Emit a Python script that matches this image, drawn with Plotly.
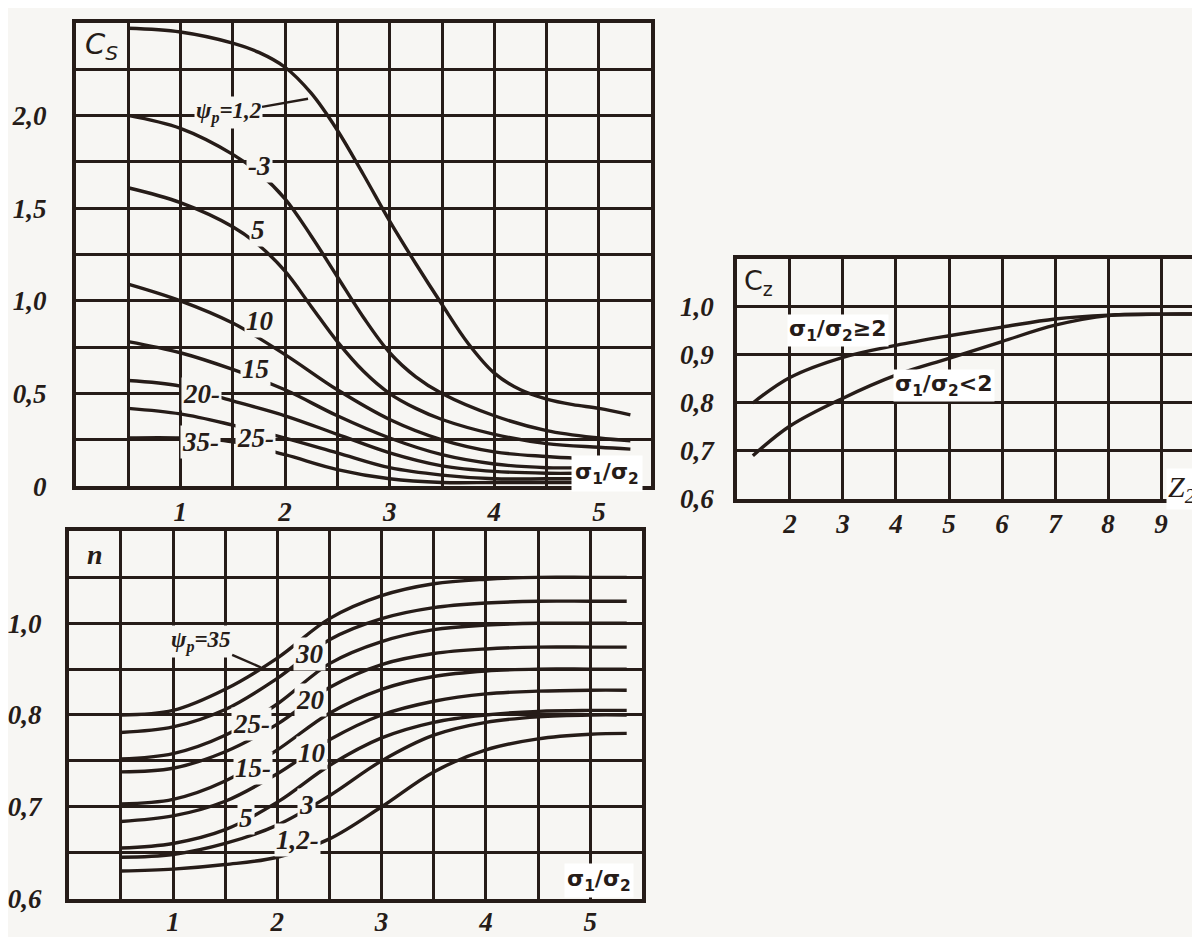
import plotly.graph_objects as go

# ---------------- data ----------------
# Cs panel (x = sigma1/sigma2)
cs_x_12 = [0.5, 1.0, 1.5, 1.75, 2.0, 2.25, 2.5, 2.75, 3.0, 3.25, 3.5, 3.75, 4.0, 4.25, 4.5, 4.75, 5.0, 5.3]
cs_psi_1_2 = [2.47, 2.45, 2.39, 2.34, 2.26, 2.12, 1.92, 1.68, 1.43, 1.20, 0.98, 0.77, 0.61, 0.52, 0.47, 0.44, 0.42, 0.385]
cs_x_mid = [0.5, 1.0, 1.5, 1.75, 2.0, 2.25, 2.5, 2.75, 3.0, 3.25, 3.5, 4.0, 4.5, 5.0, 5.3]
cs_psi_3 = [2.00, 1.93, 1.79, 1.69, 1.55, 1.35, 1.13, 0.91, 0.72, 0.59, 0.50, 0.38, 0.30, 0.26, 0.245]
cs_psi_5 = [1.61, 1.53, 1.40, 1.30, 1.16, 0.97, 0.78, 0.62, 0.50, 0.42, 0.36, 0.28, 0.23, 0.21, 0.20]
cs_x_short = [0.5, 1.0, 1.5, 2.0, 2.5, 3.0, 3.5, 4.0, 4.5, 4.8]
cs_psi_10 = [1.09, 1.00, 0.88, 0.71, 0.52, 0.36, 0.25, 0.185, 0.16, 0.15]
cs_psi_15 = [0.78, 0.72, 0.63, 0.52, 0.38, 0.26, 0.17, 0.12, 0.10, 0.10]
cs_psi_20 = [0.57, 0.54, 0.46, 0.38, 0.28, 0.18, 0.11, 0.08, 0.07, 0.07]
cs_psi_25 = [0.42, 0.39, 0.33, 0.26, 0.18, 0.10, 0.06, 0.04, 0.04, 0.04]
cs_psi_35 = [0.26, 0.26, 0.24, 0.17, 0.09, 0.04, 0.02, 0.02, 0.02, 0.02]

# n panel
n_x = [0.5, 1.0, 1.5, 2.0, 2.5, 3.0, 3.5, 4.0, 4.5, 5.0, 5.35]
n_psi_35 = [0.800, 0.805, 0.828, 0.862, 0.905, 0.930, 0.943, 0.948, 0.950, 0.950, 0.950]
n_psi_30 = [0.781, 0.787, 0.806, 0.840, 0.882, 0.905, 0.917, 0.922, 0.924, 0.924, 0.924]
n_psi_25 = [0.752, 0.758, 0.778, 0.812, 0.856, 0.880, 0.893, 0.898, 0.900, 0.900, 0.900]
n_psi_20 = [0.738, 0.742, 0.760, 0.790, 0.830, 0.855, 0.867, 0.872, 0.874, 0.874, 0.874]
n_psi_15 = [0.703, 0.708, 0.728, 0.762, 0.802, 0.828, 0.842, 0.848, 0.850, 0.850, 0.850]
n_psi_10 = [0.684, 0.690, 0.706, 0.736, 0.773, 0.800, 0.815, 0.823, 0.826, 0.827, 0.827]
n_psi_5 = [0.655, 0.660, 0.675, 0.705, 0.745, 0.775, 0.792, 0.800, 0.804, 0.805, 0.805]
n_psi_3 = [0.645, 0.648, 0.660, 0.680, 0.712, 0.750, 0.778, 0.792, 0.798, 0.800, 0.800]
n_psi_1_2 = [0.630, 0.632, 0.637, 0.645, 0.665, 0.700, 0.738, 0.762, 0.774, 0.779, 0.780]

# Cz panel (x = Z2)
cz_x = [1.3, 2, 3, 4, 5, 6, 7, 8, 9, 10]
cz_ge2 = [0.800, 0.853, 0.895, 0.920, 0.940, 0.958, 0.975, 0.983, 0.985, 0.985]
cz_lt2 = [0.690, 0.752, 0.810, 0.858, 0.893, 0.928, 0.962, 0.982, 0.985, 0.985]

# tick labels and grid positions
sig_ticks = [1, 2, 3, 4, 5]
sig_text = ["1", "2", "3", "4", "5"]
sig_grid = [0.5, 1.5, 2.5, 3.5, 4.5]
cs_yticks = [0, 0.5, 1.0, 1.5, 2.0]
cs_ytext = ["0", "0,5", "1,0", "1,5", "2,0"]
cs_ygrid = [0.25, 0.75, 1.25, 1.75, 2.25]
n_yticks = [0.6, 0.7, 0.8, 0.9]
n_ytext = ["0,6", "0,7", "0,8", "1,0"]
n_ygrid = [0.65, 0.75, 0.85, 0.95]
cz_xticks = [2, 3, 4, 5, 6, 7, 8, 9]
cz_xtext = ["2", "3", "4", "5", "6", "7", "8", "9"]
cz_yticks = [0.6, 0.7, 0.8, 0.9, 1.0]
cz_ytext = ["0,6", "0,7", "0,8", "0,9", "1,0"]

# ---------------- style ----------------
INK = "#261c18"
BG = "#f7f6f3"
W = 1200
H = 937
SERIF = "Liberation Serif"
tickfont = dict(family=SERIF, size=27, color=INK, style="italic", weight="bold")


def dom_x(l, r):
    return [l / W, r / W]


def dom_y(t, b):
    return [1 - b / H, 1 - t / H]


fig = go.Figure()


def add_curve(x, y, xa, ya, name):
    fig.add_trace(go.Scatter(x=x, y=y, mode="lines", name=name, xaxis=xa, yaxis=ya,
                             line=dict(color=INK, width=3.4, shape="spline", smoothing=1.0),
                             showlegend=False, hoverinfo="skip"))


add_curve(cs_x_12, cs_psi_1_2, "x", "y", "1,2")
for ys, nm in [(cs_psi_3, "3"), (cs_psi_5, "5")]:
    add_curve(cs_x_mid, ys, "x", "y", nm)
for ys, nm in [(cs_psi_10, "10"), (cs_psi_15, "15"), (cs_psi_20, "20"),
               (cs_psi_25, "25"), (cs_psi_35, "35")]:
    add_curve(cs_x_short, ys, "x", "y", nm)

for ys, nm in [(n_psi_35, "35"), (n_psi_30, "30"), (n_psi_25, "25"), (n_psi_20, "20"),
               (n_psi_15, "15"), (n_psi_10, "10"), (n_psi_5, "5"), (n_psi_3, "3"),
               (n_psi_1_2, "1,2")]:
    add_curve(n_x, ys, "x2", "y2", nm)

add_curve(cz_x, cz_ge2, "x3", "y3", "ge2")
add_curve(cz_x, cz_lt2, "x3", "y3", "lt2")


def axis(domain, rng, tickvals, ticktext, anchor, standoff=4, minor_vals=None):
    d = dict(domain=domain, range=rng, tickmode="array", tickvals=tickvals,
             ticktext=ticktext, showgrid=True, gridcolor=INK, gridwidth=2.8,
             showline=True, mirror=True, linecolor=INK, linewidth=3.8,
             zeroline=False, ticks="", tickfont=tickfont, anchor=anchor,
             ticklabelstandoff=standoff, fixedrange=True)
    if minor_vals:
        d["minor"] = dict(tickmode="array", tickvals=minor_vals, showgrid=True,
                          gridcolor=INK, gridwidth=2.8, ticks="")
    return d


fig.update_layout(
    width=W, height=H, margin=dict(l=0, r=0, t=0, b=0),
    paper_bgcolor=BG, plot_bgcolor=BG,
    xaxis=axis(dom_x(67, 645), [0, 5.5], sig_ticks, sig_text, "y", -2, sig_grid),
    yaxis=axis(dom_y(15, 486), [0, 2.5], cs_yticks, cs_ytext, "x", 20, cs_ygrid),
    xaxis2=axis(dom_x(60, 636), [0, 5.5], sig_ticks, sig_text, "y2", -4, sig_grid),
    yaxis2=axis(dom_y(532, 905), [0.6, 1.0], n_yticks, n_ytext, "x2", 18, n_ygrid),
    xaxis3=axis(dom_x(731, 1200), [1, 9.81], cz_xticks, cz_xtext, "y3", -2),
    yaxis3=axis(dom_y(255, 499), [0.6, 1.1], cz_yticks, cz_ytext, "x3", 14),
)

lab = dict(family=SERIF, size=27, color=INK, style="italic", weight="bold")
lab_small = dict(family=SERIF, size=23, color=INK, style="italic", weight="bold")
sans = dict(family="DejaVu Sans", size=22, color=INK, weight="bold")

ann = []


def A(x, y, text, xref, yref, font=lab, bg=BG, **kw):
    d = dict(x=x, y=y, text=text, xref=xref, yref=yref, showarrow=False,
             font=font, bgcolor=bg, borderpad=1)
    d.update(kw)
    ann.append(d)


# Cs panel labels
A(0.25, 2.375, "C<sub>S</sub>", "x", "y", font=dict(family="DejaVu Sans", size=29, color=INK, style="italic"))
A(2.22, 2.09, "ψ<sub>p</sub>=1,2", "x", "y", font=lab_small, showarrow=True, arrowhead=0,
  arrowwidth=2.4, arrowcolor=INK, ax=-80, ay=14)
A(1.76, 1.73, "-3", "x", "y")
A(1.74, 1.38, "5", "x", "y")
A(1.76, 0.89, "10", "x", "y")
A(1.72, 0.63, "15", "x", "y")
A(1.2, 0.5, "20-", "x", "y")
A(1.72, 0.26, "25-", "x", "y")
A(1.19, 0.24, "35-", "x", "y")
A(5.08, 0.07, "σ<sub>1</sub>/σ<sub>2</sub>", "x", "y", font=sans, bg="#ffffff", borderpad=3)

# n panel labels
A(0.25, 0.975, "n", "x2", "y2", font=dict(family=SERIF, size=28, color=INK, style="italic", weight="bold"))
A(1.84, 0.852, "ψ<sub>p</sub>=35", "x2", "y2", font=lab_small, showarrow=True, arrowhead=0,
  arrowwidth=2.4, arrowcolor=INK, ax=-60, ay=-26)
A(2.31, 0.867, "30", "x2", "y2")
A(1.75, 0.79, "25-", "x2", "y2")
A(2.32, 0.816, "20", "x2", "y2")
A(1.77, 0.742, "15-", "x2", "y2")
A(2.33, 0.759, "10", "x2", "y2")
A(1.7, 0.688, "5", "x2", "y2")
A(2.28, 0.702, "3", "x2", "y2")
A(2.19, 0.664, "1,2-", "x2", "y2")
A(5.08, 0.62, "σ<sub>1</sub>/σ<sub>2</sub>", "x2", "y2", font=sans, bg="#ffffff", borderpad=2)

# Cz panel labels
A(1.4, 1.05, "C<sub>z</sub>", "x3", "y3", font=dict(family="DejaVu Sans", size=27, color=INK))
A(2.9, 0.951, "σ<sub>1</sub>/σ<sub>2</sub>≥2", "x3", "y3", font=sans, bg="#ffffff")
A(4.9, 0.837, "σ<sub>1</sub>/σ<sub>2</sub><2", "x3", "y3", font=sans, bg="#ffffff")
A(9.4, 0.62, "Z<sub>2</sub>", "x3", "y3", font=dict(family=SERIF, size=30, color=INK, style="italic"), bg="#ffffff")

fig.update_layout(annotations=ann)
fig.write_html("out.html")
